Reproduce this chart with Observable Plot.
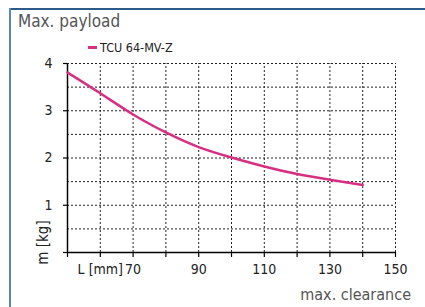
<!DOCTYPE html>
<html>
<head>
<meta charset="utf-8">
<script src="https://cdn.jsdelivr.net/npm/d3@7"></script>
<script src="https://cdn.jsdelivr.net/npm/@observablehq/plot@0.6"></script>
<style>
  html, body { margin: 0; padding: 0; background: #fff; }
  #wrap { position: relative; width: 425px; height: 307px; overflow: hidden; font-family: "DejaVu Sans Condensed", "DejaVu Sans", sans-serif; }
  #frameTop { position: absolute; left: 9px; top: 8px; width: 416px; height: 2px; background: #2c5b8a; }
  #frameLeft { position: absolute; left: 9px; top: 8px; width: 2px; height: 299px; background: #5b87b3; }
  #title { position: absolute; left: 18px; top: 11px; font-size: 17px; color: #555; }
  #legend { position: absolute; left: 88px; top: 40px; font-size: 12.5px; color: #222; display: flex; align-items: center; }
  #legend .sw { display: inline-block; width: 9px; height: 2.5px; background: #d92f82; margin-right: 3px; }
  #xlabel { position: absolute; right: 14px; top: 285px; font-size: 16px; color: #555; }
  #chart { position: absolute; left: 0; top: 0; }
</style>
</head>
<body>
<div id="wrap">
  <div id="chart"></div>
  <div id="frameTop"></div>
  <div id="frameLeft"></div>
  <div id="title">Max. payload</div>
  <div id="legend"><span class="sw"></span><span>TCU 64-MV-Z</span></div>
  <div id="xlabel">max. clearance</div>
</div>
<script>
const seriesName = "TCU 64-MV-Z";
const clearance = [50, 60, 70, 80, 90, 100, 110, 120, 130, 140];
const payload = [3.81, 3.37, 2.92, 2.54, 2.23, 2.01, 1.82, 1.66, 1.54, 1.43];
const xTicks = [50, 60, 70, 80, 90, 100, 110, 120, 130, 140, 150];
const xTickLabels = ["", "L [mm]", "70", "", "90", "", "110", "", "130", "", "150"];
const yTicks = [0, 1, 2, 3, 4];
const yTickLabels = ["", "1", "2", "3", "4"];
const yGrid = [0.5, 1, 1.5, 2, 2.5, 3, 3.5, 4];
const xGrid = [60, 70, 80, 90, 100, 110, 120, 130, 140, 150];

const data = clearance.map((c, i) => ({c, m: payload[i]}));
const font = "DejaVu Sans Condensed, DejaVu Sans, sans-serif";

const plot = Plot.plot({
  width: 425,
  height: 307,
  marginLeft: 67,
  marginRight: 30,
  marginTop: 63,
  marginBottom: 55,
  style: {fontFamily: font, fontSize: "14px", color: "#222", background: "transparent"},
  x: {domain: [50, 150]},
  y: {domain: [0, 4]},
  marks: [
    Plot.ruleX(xGrid, {y1: 0, y2: 4, stroke: "#222", strokeDasharray: "2,2", strokeWidth: 1}),
    Plot.ruleY(yGrid, {x1: 50, x2: 150, stroke: "#222", strokeDasharray: "2,2", strokeWidth: 1}),
    Plot.axisX({ticks: xTicks, tickFormat: (d) => xTickLabels[xTicks.indexOf(d)], tickSize: 5, tickPadding: 7, label: null, fontSize: 14, stroke: "#000", strokeWidth: 1.2}),
    Plot.axisY({ticks: yTicks, tickFormat: d => yTickLabels[yTicks.indexOf(d)], tickSize: 4, tickPadding: 11, label: null, fontSize: 14, stroke: "#000", strokeWidth: 1.2}),
    Plot.text(["m [kg]"], {x: 50, y: 0, dx: -24, dy: -10, rotate: -90, text: d => d, fontSize: 15, fill: "#222", textAnchor: "middle"}),
    Plot.ruleX([50], {y1: 0, y2: 4, stroke: "#000", strokeWidth: 1.5}),
    Plot.ruleY([0], {x1: 50, x2: 150, stroke: "#000", strokeWidth: 1.5}),
    Plot.line(data, {x: "c", y: "m", stroke: "#d92f82", strokeWidth: 2.5, curve: "natural"})
  ]
});
document.getElementById("chart").appendChild(plot);
</script>
</body>
</html>
